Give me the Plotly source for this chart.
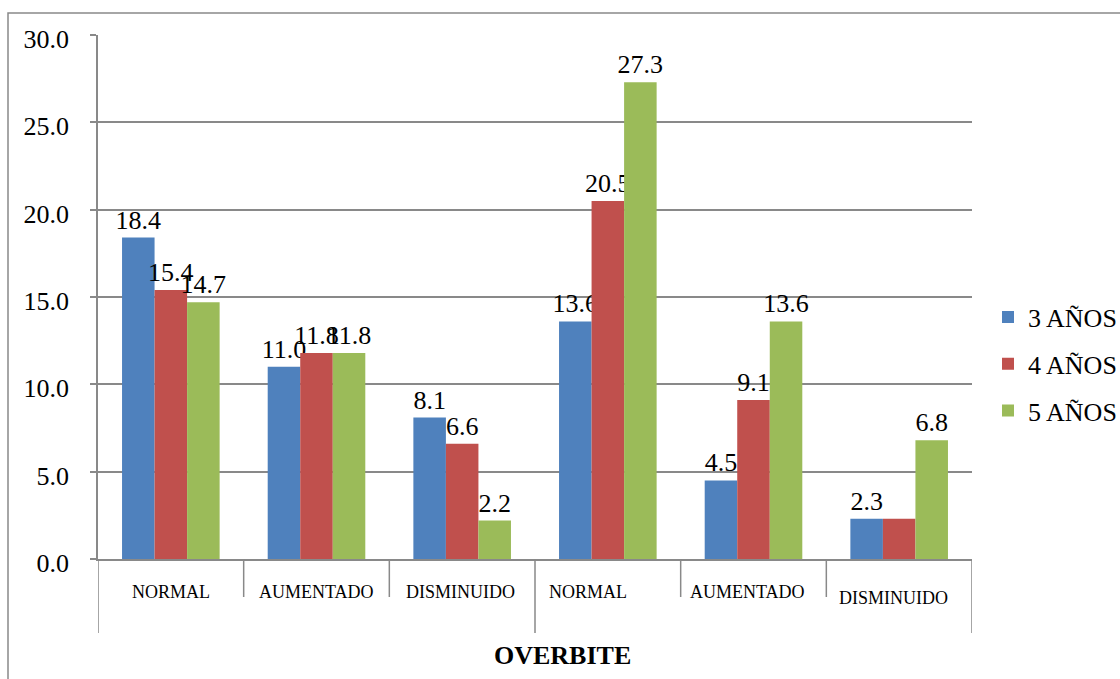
import plotly.graph_objects as go

# Chart data
categories = ["NORMAL", "AUMENTADO", "DISMINUIDO", "NORMAL", "AUMENTADO", "DISMINUIDO"]
series_names = ["3 AÑOS", "4 AÑOS", "5 AÑOS"]
values_3 = [18.4, 11.0, 8.1, 13.6, 4.5, 2.3]
values_4 = [15.4, 11.8, 6.6, 20.5, 9.1, 2.3]
values_5 = [14.7, 11.8, 2.2, 27.3, 13.6, 6.8]
y_ticks = [0, 5, 10, 15, 20, 25, 30]
axis_title = "OVERBITE"

# Which value labels are printed (the duplicate 2.3 of the last group is left off)
labels_on = [
    [True] * 6,
    [True, True, True, True, True, False],
    [True] * 6,
]

colors = ["#4F81BD", "#C0504D", "#9BBB59"]
FONT = "Liberation Serif"
GRID = "#898989"

W, H = 1120, 679
L, R, T, B = 98, 148, 35, 120
PW, PH = W - L - R, H - T - B


def px_x(px):
    return (px - L) / PW


def px_y(py):
    return (H - B - py) / PH


xs = list(range(len(categories)))
fig = go.Figure()
for k, (name, vals, col) in enumerate(zip(series_names, [values_3, values_4, values_5], colors)):
    fig.add_trace(go.Bar(
        x=xs, y=vals, name=name, legendgroup=name,
        marker=dict(color=col, line=dict(width=0)),
        text=[f"{v:.1f}" if on else "" for v, on in zip(vals, labels_on[k])],
        textposition="outside",
        textfont=dict(family=FONT, size=26, color="black"),
        constraintext="none", cliponaxis=False,
    ))

shapes = []
# Outer chart border
shapes.append(dict(type="rect", xref="paper", yref="paper",
                   x0=px_x(8), x1=px_x(1124), y0=px_y(683), y1=px_y(13),
                   line=dict(color=GRID, width=1.5), fillcolor="rgba(0,0,0,0)"))
# Category dividers below the axis
for i in range(len(categories) + 1):
    bottom = 633 if i % 3 == 0 else 597
    shapes.append(dict(type="line", xref="x", yref="paper",
                       x0=i - 0.5, x1=i - 0.5, y0=0, y1=px_y(bottom),
                       line=dict(color=GRID, width=1.5)))

annotations = []
label_shift = [0, 0, -2, -20, -6, -6]
label_y = [592, 592, 592, 592, 592, 598]
for i, (cat, dx, ly) in enumerate(zip(categories, label_shift, label_y)):
    annotations.append(dict(x=i, xref="x", y=px_y(ly), yref="paper", text=cat,
                            showarrow=False, xshift=dx, yanchor="middle",
                            font=dict(family=FONT, size=18, color="black")))
annotations.append(dict(x=px_x(562), xref="paper", y=px_y(655), yref="paper",
                        text=f"<b>{axis_title}</b>", showarrow=False, yanchor="middle",
                        font=dict(family=FONT, size=26, color="black")))

fig.update_layout(
    width=W, height=H,
    margin=dict(l=L, r=R, t=T, b=B, autoexpand=False),
    paper_bgcolor="white", plot_bgcolor="white",
    barmode="group", bargap=0.33, bargroupgap=0,
    font=dict(family=FONT, color="black"),
    shapes=shapes, annotations=annotations,
    legend=dict(x=px_x(988), y=px_y(364), xanchor="left", yanchor="middle",
                font=dict(family=FONT, size=26, color="black"),
                bgcolor="rgba(0,0,0,0)", itemwidth=30,
                traceorder="grouped", tracegroupgap=10),
    xaxis=dict(range=[-0.5, len(categories) - 0.5], showgrid=False, zeroline=False,
               showline=True, linecolor=GRID, linewidth=1.5,
               showticklabels=False, ticks="", fixedrange=True),
    yaxis=dict(range=[0, 30], tickvals=y_ticks, tickformat=".1f",
               showgrid=True, gridcolor=GRID, gridwidth=1.5, zeroline=False,
               showline=True, linecolor=GRID, linewidth=1.5,
               ticks="outside", ticklen=6, tickcolor=GRID, tickwidth=1.5,
               ticklabelstandoff=16, ticklabelshift=4,
               tickfont=dict(family=FONT, size=26, color="black")),
    showlegend=True,
)

fig.write_html("out.html")
